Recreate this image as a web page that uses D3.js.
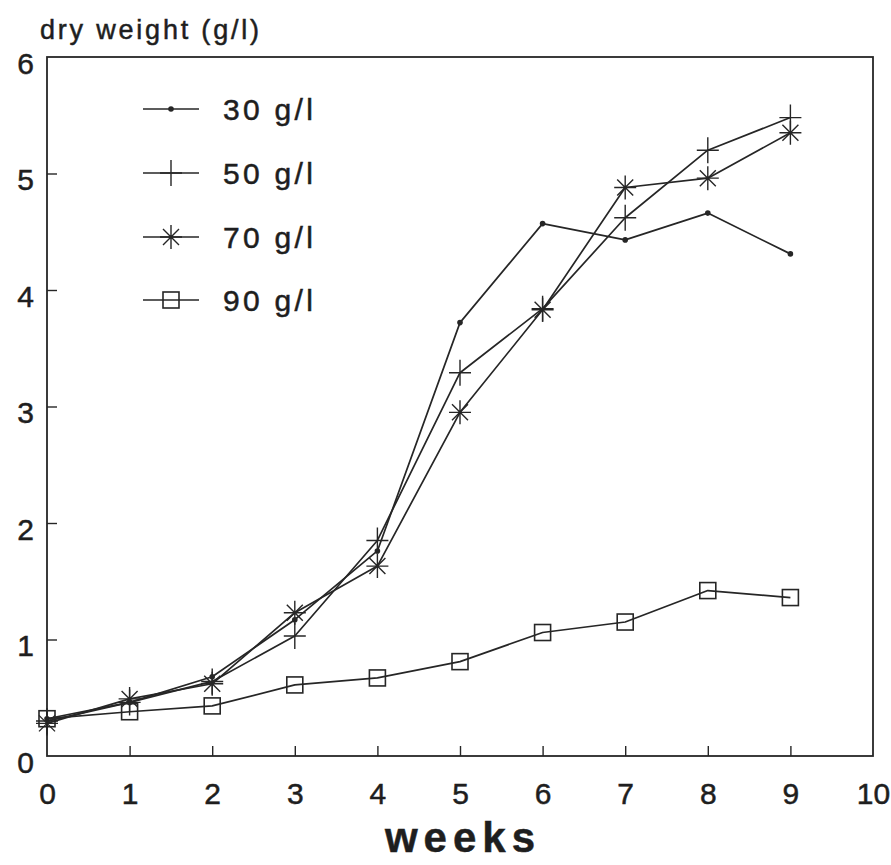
<!DOCTYPE html>
<html>
<head>
<meta charset="utf-8">
<script src="https://cdn.jsdelivr.net/npm/d3@7"></script>
<style>
  html, body { margin: 0; padding: 0; background: #fff; }
  svg { display: block; }
  text { font-family: "Liberation Sans", Arial, sans-serif; fill: #1e1e1e; stroke: #1e1e1e; stroke-width: 0.5px; }
</style>
</head>
<body>
<svg id="chart" width="891" height="865"></svg>
<script>
// Culture dry weight over time at four substrate concentrations
const weeks = [0, 1, 2, 3, 4, 5, 6, 7, 8, 9];
const seriesNames = ["30 g/l", "50 g/l", "70 g/l", "90 g/l"];
const dw30 = [0.32, 0.46, 0.68, 1.17, 1.76, 3.72, 4.57, 4.43, 4.66, 4.31];
const dw50 = [0.30, 0.46, 0.64, 1.03, 1.85, 3.29, 3.84, 4.62, 5.20, 5.48];
const dw70 = [0.28, 0.49, 0.62, 1.23, 1.63, 2.95, 3.83, 4.88, 4.96, 5.35];
const dw90 = [0.32, 0.38, 0.43, 0.61, 0.67, 0.81, 1.06, 1.15, 1.42, 1.36];
const xTicks = [0, 1, 2, 3, 4, 5, 6, 7, 8, 9, 10];
const yTicks = [0, 1, 2, 3, 4, 5, 6];
const markers = ["dot", "plus", "star", "square"];

const svg = d3.select("#chart");
const ink = "#262626";
const m = { left: 47, right: 18, top: 57, bottom: 109 };
const W = 891, H = 865;

const x = d3.scaleLinear().domain([0, 10]).range([m.left, W - m.right]);
const y = d3.scaleLinear().domain([0, 6]).range([H - m.bottom, m.top]);

// frame
svg.append("rect")
  .attr("x", x(0)).attr("y", y(6))
  .attr("width", x(10) - x(0)).attr("height", y(0) - y(6))
  .attr("fill", "none").attr("stroke", ink).attr("stroke-width", 1.8);

// x axis: inward ticks, labels below
const gx = svg.append("g").attr("transform", `translate(0,${y(0)})`)
  .call(d3.axisBottom(x).tickValues(xTicks).tickSize(-10).tickPadding(0).tickFormat(d3.format("d")));
gx.select(".domain").remove();
gx.selectAll(".tick line").attr("stroke", ink).attr("stroke-width", 1.4)
  .filter(d => d === 0 || d === 10).remove();
gx.selectAll(".tick text").attr("y", 0).attr("dy", 48)
  .style("font-size", "30px");

// y axis
const gy = svg.append("g").attr("transform", `translate(${x(0)},0)`)
  .call(d3.axisLeft(y).tickValues(yTicks).tickSize(-10).tickPadding(0).tickFormat(d3.format("d")));
gy.select(".domain").remove();
gy.selectAll(".tick line").attr("stroke", ink).attr("stroke-width", 1.4)
  .filter(d => d === 0 || d === 6).remove();
gy.selectAll(".tick text").attr("x", -13).attr("dy", 16)
  .style("font-size", "30px");

// axis titles
svg.append("text").attr("x", 40).attr("y", 39)
  .style("font-size", "27px").style("letter-spacing", "2.8px")
  .text("dry weight (g/l)");
svg.append("text").attr("x", 463).attr("y", 852).attr("text-anchor", "middle")
  .style("font-size", "42px").style("font-weight", "bold").style("letter-spacing", "6px")
  .text("weeks");

// marker drawing
function drawMarker(g, kind) {
  if (kind === "dot") {
    g.append("circle").attr("r", 2.8).attr("fill", ink);
  } else if (kind === "plus") {
    g.append("path").attr("d", "M-11,0H11M0,-13V13")
      .attr("stroke", ink).attr("stroke-width", 1.4).attr("fill", "none");
  } else if (kind === "star") {
    g.append("path").attr("d", "M-11,0H11M0,-12V12M-8,-8L8,8M-8,8L8,-8")
      .attr("stroke", ink).attr("stroke-width", 1.4).attr("fill", "none");
  } else if (kind === "square") {
    g.append("rect").attr("x", -8).attr("y", -8).attr("width", 16).attr("height", 16)
      .attr("stroke", ink).attr("stroke-width", 1.6).attr("fill", "none");
  }
}

const line = d3.line().x((d, i) => x(weeks[i])).y(d => y(d));
const allSeries = [dw30, dw50, dw70, dw90];

allSeries.forEach((vals, si) => {
  svg.append("path").datum(vals).attr("d", line)
    .attr("fill", "none").attr("stroke", ink).attr("stroke-width", 1.7)
    .attr("stroke-linejoin", "round");
  vals.forEach((v, i) => {
    const g = svg.append("g").attr("transform", `translate(${x(weeks[i])},${y(v)})`);
    drawMarker(g, markers[si]);
  });
});

// legend
const legRows = [109, 173, 237, 300];
seriesNames.forEach((name, si) => {
  const ly = legRows[si];
  svg.append("line").attr("x1", 143).attr("x2", 199).attr("y1", ly).attr("y2", ly)
    .attr("stroke", ink).attr("stroke-width", 1.7);
  const g = svg.append("g").attr("transform", `translate(171,${ly})`);
  drawMarker(g, markers[si]);
  svg.append("text").attr("x", 223).attr("y", ly + 11)
    .style("font-size", "30px").style("letter-spacing", "3.3px")
    .text(name);
});
</script>
</body>
</html>
